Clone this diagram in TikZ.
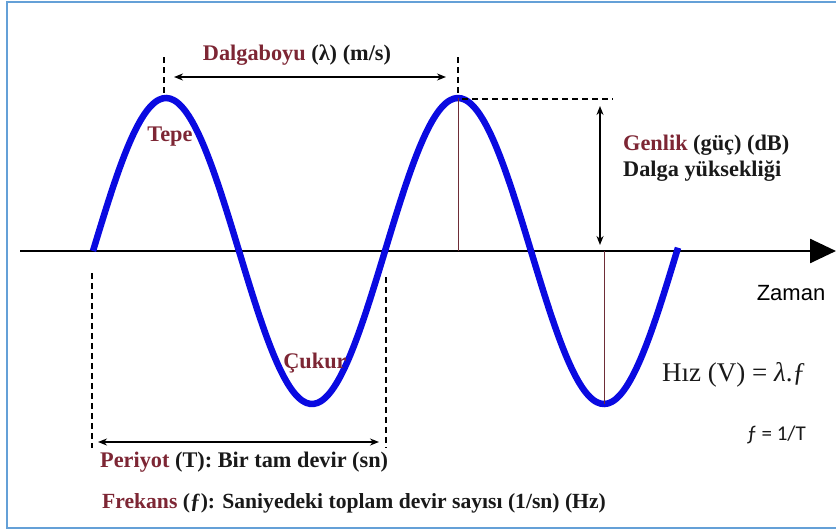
\documentclass[tikz,border=0pt]{standalone}
\usepackage{fontspec}
\setmainfont{Liberation Serif}
\newfontfamily\zsans{Liberation Sans}
\newfontfamily\csans{Carlito}
\usetikzlibrary{arrows.meta}
\definecolor{wavec}{RGB}{10,10,225}
\definecolor{lbl}{RGB}{125,38,52}
\definecolor{framec}{RGB}{100,160,215}
\definecolor{guidec}{RGB}{110,45,55}
\definecolor{txt}{RGB}{25,25,25}
\begin{document}
\begin{tikzpicture}[x=1pt,y=1pt,
  lab/.style={font=\fontsize{22.3}{25}\selectfont\bfseries, text=txt, inner sep=0pt},
  dimline/.style={line width=1.6pt, {Stealth[length=9pt,width=7pt]}-{Stealth[length=9pt,width=7pt]}},
  guidedash/.style={line width=1.8pt, dash pattern=on 6pt off 4pt},
  guideline/.style={guidec, line width=1pt}]
\useasboundingbox (0,0) rectangle (836,-530);
% frame
\draw[framec, line width=2pt] (837,-2) -- (7,-2) -- (7,-528) -- (837,-528);
% axis
\coordinate (ax0) at (20,-251);
\coordinate (ax1) at (836,-251);
\draw[line width=2.6pt, -{Triangle[length=26pt,width=24pt]}] (ax0) -- (ax1);
% wave
\draw[wavec, line width=6.5pt] plot[domain=0:585, samples=160, smooth] ({93+\x}, {-251+153*sin(1.23288*\x)});
% key points
\coordinate (p1) at (165,-98);
\coordinate (p2) at (458,-98);
\coordinate (z2) at (458,-251);
\coordinate (t2) at (604,-404);
\coordinate (z4) at (604,-251);
% guide lines
\draw[guideline] (p2) -- (z2);
\draw[guideline] (z4) -- (t2);
% wavelength
\coordinate (d1top) at (164,-57);
\coordinate (d1bot) at (164,-95);
\coordinate (d2top) at (458,-57);
\coordinate (d2bot) at (458,-95);
\draw[guidedash] (d1top) -- (d1bot);
\draw[guidedash] (d2top) -- (d2bot);
\coordinate (wl1) at (174,-77);
\coordinate (wl2) at (446,-77);
\draw[dimline] (wl1) -- (wl2);
% amplitude
\coordinate (h1) at (462,-99);
\coordinate (h2) at (613,-99);
\draw[guidedash] (h1) -- (h2);
\coordinate (a1) at (600,-106);
\coordinate (a2) at (600,-245);
\draw[dimline] (a1) -- (a2);
% period
\coordinate (v1top) at (92,-273);
\coordinate (v1bot) at (92,-448);
\coordinate (v2top) at (386,-277);
\coordinate (v2bot) at (386,-448);
\draw[guidedash] (v1top) -- (v1bot);
\draw[guidedash] (v2top) -- (v2bot);
\coordinate (pr1) at (98,-442);
\coordinate (pr2) at (379,-442);
\draw[dimline] (pr1) -- (pr2);
% labels
\node[lab] (dalga) at (297,-55) {\textcolor{lbl}{Dalgaboyu} (λ) (m/s)};
\node[lab] (tepe) at (170,-137) {\textcolor{lbl}{Tepe}};
\node[lab, anchor=west] (genlik) at (623,-145) {\textcolor{lbl}{Genlik} (güç) (dB)};
\node[lab, anchor=west] (yuk) at (623,-171) {Dalga yüksekliği};
\node[inner sep=0pt, font=\zsans\fontsize{22}{25}\selectfont] (zaman) at (791,-293) {Zaman};
\node[lab] (cukur) at (315,-363) {\textcolor{lbl}{Çukur}};
\node[inner sep=0pt, anchor=west, font=\fontsize{27}{31}\selectfont, text=txt] (hiz) at (662,-375) {Hız (V) = \textit{λ}.ƒ};
\node[inner sep=0pt, anchor=east, font=\csans\fontsize{21}{25}\selectfont, text=txt] (ft) at (806,-435) {ƒ = 1/T};
\node[lab, anchor=west] (periyot) at (100,-462) {\textcolor{lbl}{Periyot} (T): Bir tam devir (sn)};
\node[lab, anchor=west, font=\fontsize{21.6}{25}\selectfont\bfseries] (frekans) at (102,-503) {\textcolor{lbl}{Frekans} (ƒ): Saniyedeki toplam devir sayısı (1/sn) (Hz)};
\end{tikzpicture}
\end{document}
